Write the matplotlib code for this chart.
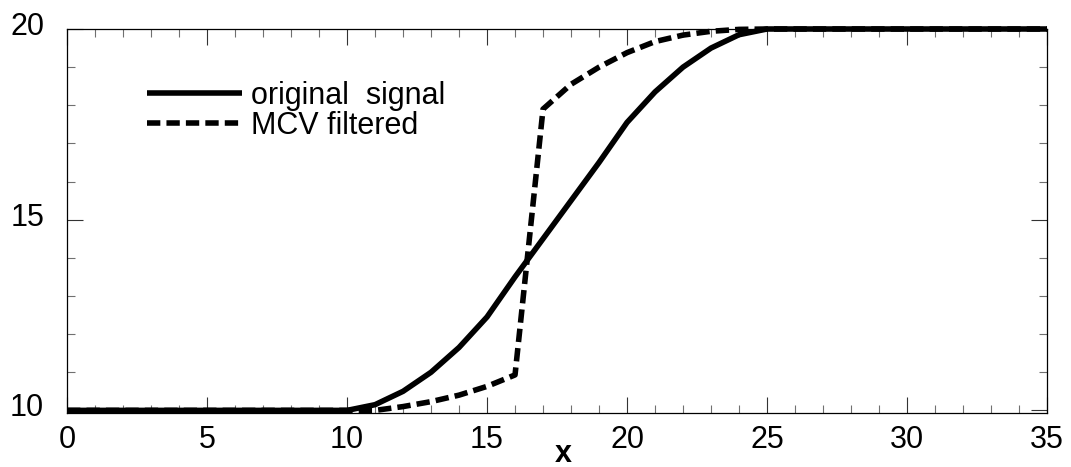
import matplotlib
matplotlib.use("Agg")
import matplotlib.pyplot as plt
from matplotlib.ticker import MultipleLocator
from matplotlib.transforms import ScaledTranslation

# ---- data ----
x_orig = [0, 1, 2, 3, 4, 5, 6, 7, 8, 9, 10, 11, 12, 13, 14, 15, 16, 17, 18,
          19, 20, 21, 22, 23, 24, 25, 26, 27, 28, 29, 30, 31, 32, 33, 34, 35]
y_orig = [10, 10, 10, 10, 10, 10, 10, 10, 10, 10, 10, 10.15, 10.5, 11.0, 11.65,
          12.45, 13.5, 14.5, 15.5, 16.5, 17.55, 18.35, 19.0, 19.5, 19.85, 20,
          20, 20, 20, 20, 20, 20, 20, 20, 20, 20]

x_mcv = [0, 1, 2, 3, 4, 5, 6, 7, 8, 9, 10, 11, 12, 13, 14, 15, 16, 17, 18,
         19, 20, 21, 22, 23, 24, 25, 26, 27, 28, 29, 30, 31, 32, 33, 34, 35]
y_mcv = [10, 10, 10, 10, 10, 10, 10, 10, 10, 10, 10, 10.0, 10.1, 10.23, 10.4,
         10.63, 10.93, 17.9, 18.55, 19.0, 19.38, 19.67, 19.84, 19.94, 19.99, 20,
         20, 20, 20, 20, 20, 20, 20, 20, 20, 20]

labels = ["original  signal", "MCV filtered"]
x_ticks = [0, 5, 10, 15, 20, 25, 30, 35]
y_ticks = [10, 15, 20]

plt.rcParams['font.family'] = ['Liberation Sans', 'DejaVu Sans']

fs = 22
fig = plt.figure(figsize=(10.71, 4.67), dpi=100)
ax = fig.add_axes([0.0626, 0.1163, 0.915, 0.8216])

lw = 4.0
ax.plot(x_orig, y_orig, color='black', lw=lw, solid_capstyle='butt',
        solid_joinstyle='miter', clip_on=False, label=labels[0])
ax.plot(x_mcv, y_mcv, color='black', lw=lw, linestyle=(0, (2.4, 1.1)),
        dash_capstyle='butt', clip_on=False, label=labels[1])

ax.set_xlim(0, 35)
ax.set_ylim(9.94, 20)
ax.set_xticks(x_ticks)
ax.set_yticks(y_ticks)
ax.xaxis.set_minor_locator(MultipleLocator(1))
ax.yaxis.set_minor_locator(MultipleLocator(1))

ax.tick_params(which='both', direction='in', top=True, right=True,
               labelsize=fs)
ax.tick_params(which='major', length=11.5, width=0.8, color='#333333')
ax.tick_params(which='minor', length=5.8, width=0.8, color='#707070')
ax.tick_params(axis='x', which='major', pad=9)
ax.tick_params(axis='y', which='major', pad=16.5)

for lab in ax.get_yticklabels():
    lab.set_transform(lab.get_transform() + ScaledTranslation(0, 4 / 72, fig.dpi_scale_trans))

for sp in ax.spines.values():
    sp.set_linewidth(0.9)
    sp.set_color('black')

ax.set_xlabel('x', fontsize=fs, fontweight='bold')
ax.xaxis.set_label_coords(0.506, -0.068)

ax.legend(loc='upper left', bbox_to_anchor=(0.0816, 0.865), frameon=False,
          fontsize=fs, handlelength=3.1, handletextpad=0.3,
          labelspacing=0.0, borderpad=0, borderaxespad=0)

fig.savefig('out.png', dpi=100)
